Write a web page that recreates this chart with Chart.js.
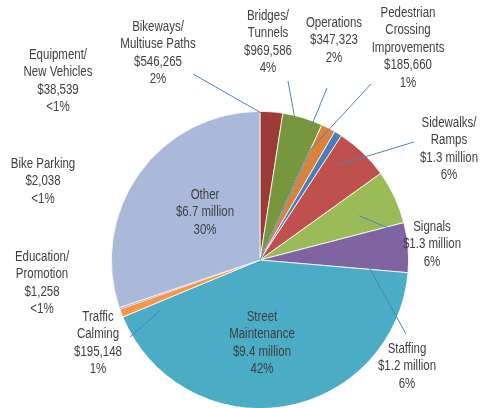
<!DOCTYPE html>
<html>
<head>
<meta charset="utf-8">
<script src="https://cdn.jsdelivr.net/npm/chart.js@4/dist/chart.umd.min.js"></script>
<style>
  html, body { margin: 0; padding: 0; background: #fff; overflow: hidden; }
  canvas { display: block; }
</style>
</head>
<body>
<canvas id="pie" width="482" height="420"></canvas>
<script>
// slice order as drawn, clockwise from 12 o'clock
const categories = ["Bikeways/ Multiuse Paths", "Bridges/ Tunnels", "Operations", "Pedestrian Crossing Improvements",
  "Sidewalks/ Ramps", "Signals", "Staffing", "Street Maintenance", "Traffic Calming",
  "Education/ Promotion", "Bike Parking", "Equipment/ New Vehicles", "Other"];
const amounts = [546265, 969586, 347323, 185660, 1300000, 1300000, 1200000, 9400000, 195148, 1258, 2038, 38539, 6700000];
const amountText = ["$546,265", "$969,586", "$347,323", "$185,660", "$1.3 million", "$1.3 million", "$1.2 million",
  "$9.4 million", "$195,148", "$1,258", "$2,038", "$38,539", "$6.7 million"];
const pctText = ["2%", "4%", "2%", "1%", "6%", "6%", "6%", "42%", "1%", "<1%", "<1%", "<1%", "30%"];
const nameLines = [["Bikeways/", "Multiuse Paths"], ["Bridges/", "Tunnels"], ["Operations"], ["Pedestrian", "Crossing", "Improvements"],
  ["Sidewalks/", "Ramps"], ["Signals"], ["Staffing"], ["Street", "Maintenance"], ["Traffic", "Calming"],
  ["Education/", "Promotion"], ["Bike Parking"], ["Equipment/", "New Vehicles"], ["Other"]];
const colors = ["#9D3B39", "#77963D", "#D8823B", "#4A7EBB", "#C0504D", "#9BBB59", "#8064A2", "#4BACC6", "#F79646",
  "#AAB9D9", "#AAB9D9", "#AAB9D9", "#AAB9D9"];
const borders = [0.8, 0.8, 0.8, 0.8, 0.8, 0.8, 0.8, 0.8, 0.8, 0, 0, 0, 0.8];

// label block positions (centre x, first line y)
const labelPos = [[158, 27], [268, 16], [334, 23], [408, 13], [449, 123], [432, 227], [407, 349], [262, 317], [98, 317],
  [42, 257], [43, 164], [58, 55], [205, 195]];
// leader lines: start point, then anchors on the pie [slice, fraction of the slice angle, fraction of radius]
const leaders = [
  { from: [193, 74], to: [[0, 0.05, 0.99]] },
  { from: [288, 81], to: [[1, 0.3, 0.99]] },
  { from: [327, 88], to: [[2, -0.64, 0.97]] },
  { from: [371, 84], to: [[1, 1, 0.82], [1, 1, 0]] },
  { from: [414, 142], to: [[4, 0.3, 0.83]] },
  { from: [393, 230], to: [[5, 0.55, 0.73]] },
  { from: [406, 334], to: [[6, 0.91, 0.73]] },
  { from: [130, 337], to: [[8, -1.4, 0.76]] }
];

const labelPlugin = {
  id: 'pieLabels',
  afterDatasetsDraw(chart) {
    const ctx = chart.ctx;
    const arcs = chart.getDatasetMeta(0).data;
    ctx.save();
    ctx.strokeStyle = '#4F81BD';
    ctx.lineWidth = 1;
    leaders.forEach(l => {
      ctx.beginPath();
      ctx.moveTo(l.from[0], l.from[1]);
      l.to.forEach(p => {
        const a = arcs[p[0]];
        const ang = a.startAngle + (a.endAngle - a.startAngle) * p[1];
        const r = a.outerRadius * p[2];
        ctx.lineTo(a.x + r * Math.cos(ang), a.y + r * Math.sin(ang));
      });
      ctx.stroke();
    });
    // Arial Narrow look: Liberation Sans squeezed horizontally
    const sx = 0.82;
    ctx.fillStyle = '#404040';
    ctx.font = '14px "Liberation Sans", Arial, sans-serif';
    ctx.textAlign = 'center';
    ctx.textBaseline = 'middle';
    categories.forEach((c, i) => {
      const lines = nameLines[i].concat([amountText[i], pctText[i]]);
      lines.forEach((t, k) => {
        ctx.save();
        ctx.translate(labelPos[i][0], labelPos[i][1] + k * 17.5);
        ctx.scale(sx, 1);
        ctx.fillText(t, 0, 0);
        ctx.restore();
      });
    });
    ctx.restore();
  }
};

new Chart(document.getElementById('pie'), {
  type: 'pie',
  data: {
    labels: categories,
    datasets: [{
      data: amounts,
      backgroundColor: colors,
      borderColor: '#ffffff',
      borderWidth: borders
    }]
  },
  options: {
    responsive: false,
    animation: false,
    layout: { padding: { left: 111, right: 73, top: 111, bottom: 11 } },
    plugins: {
      legend: { display: false },
      tooltip: { enabled: false }
    }
  },
  plugins: [labelPlugin]
});
</script>
</body>
</html>
